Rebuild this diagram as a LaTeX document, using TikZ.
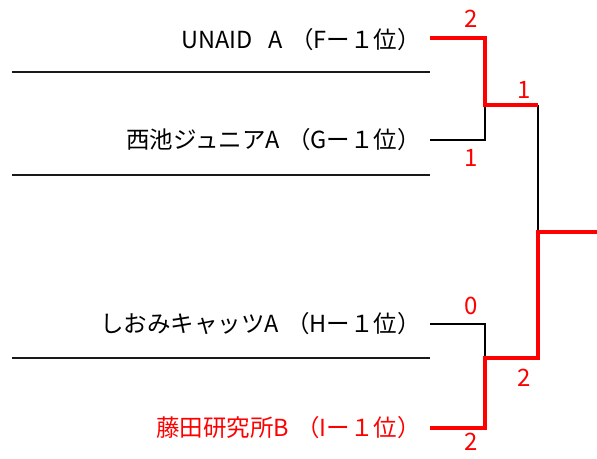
\documentclass[tikz,border=0pt]{standalone}
\usepackage{fontspec}
\setmainfont{Noto Sans CJK JP}
\definecolor{winred}{RGB}{255,0,0}
\newcommand{\pgap}{\hspace{0.3em}}
\begin{document}
\begin{tikzpicture}[x=1pt,y=-1pt,
  team/.style={anchor=east,inner sep=0pt,font=\fontsize{23.5}{23.5}\selectfont},
  score/.style={inner sep=0pt,text=winred,font=\fontsize{24}{24}\selectfont},
  sep/.style={line width=2.2pt,black!90},
  lose/.style={line width=1.6pt,black},
  lose2/.style={line width=2.2pt,black},
  win/.style={line width=4.5pt,winred,line join=miter}]
\useasboundingbox (0,0) rectangle (597,458);
% teams
\node[team] (t1) at (421,40) {UNAID\hspace{0.7em}A\pgap（Fー１位）};
\node[team] (t2) at (421,140) {西池ジュニアA\pgap（Gー１位）};
\node[team] (t3) at (421,324) {しおみキャッツA\pgap（Hー１位）};
\node[team,text=winred] (t4) at (421,428) {藤田研究所B\pgap（Iー１位）};
% separators
\coordinate (s1a) at (12,72); \coordinate (s1b) at (430,72);
\coordinate (s2a) at (12,175); \coordinate (s2b) at (430,175);
\coordinate (s3a) at (12,358); \coordinate (s3b) at (430,358);
\draw[sep] (s1a) -- (s1b);
\draw[sep] (s2a) -- (s2b);
\draw[sep] (s3a) -- (s3b);
% bracket points
\coordinate (p1) at (430,38);
\coordinate (p2) at (430,140);
\coordinate (p3) at (430,324);
\coordinate (p4) at (430,428);
\coordinate (q1) at (485,105);
\coordinate (q2) at (485,358);
\coordinate (r1) at (538,105);
\coordinate (r2) at (538,358);
\coordinate (f) at (538,232);
\coordinate (w) at (597,232);
% losers
\draw[lose] (p2) -| (q1);
\draw[lose] (p3) -| (q2);
\draw[lose2] (r1) -- (f);
% winners
\draw[win] (p1) -| (q1) -- (r1);
\draw[win] (w) -- (f) -- (r2) -- (q2) |- (p4);
% scores
\node[score] (c1) at (471,19) {2};
\node[score] (c2) at (471,158) {1};
\node[score] (c3) at (524,90) {1};
\node[score] (c4) at (471,306) {0};
\node[score] (c5) at (524,378) {2};
\node[score] (c6) at (471,442) {2};
\end{tikzpicture}
\end{document}
